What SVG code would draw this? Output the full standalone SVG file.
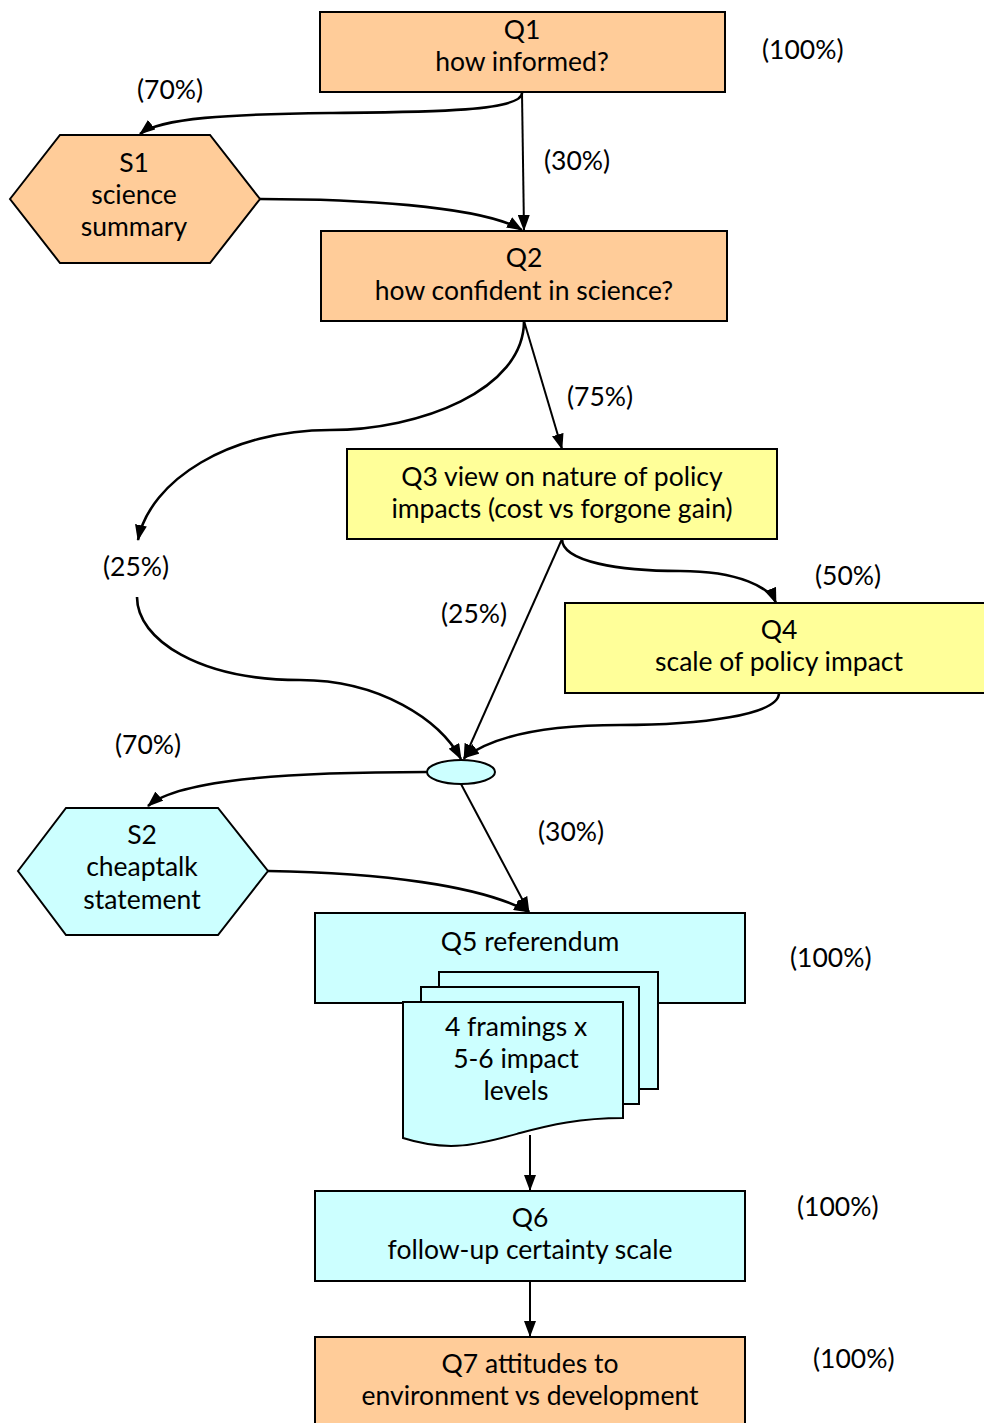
<svg xmlns="http://www.w3.org/2000/svg" width="984" height="1423" viewBox="0 0 984 1423">
<style>
text{font-family:Lato,"Open Sans",sans-serif;font-size:26.5px;fill:#000;text-anchor:middle}
.lbl{text-anchor:start}
.box{stroke:#000;stroke-width:2}
.peach{fill:#FFCC99}
.yel{fill:#FFFF99}
.cyan{fill:#CCFFFF}
.e{fill:none;stroke:#000;stroke-width:2.6}
.s{fill:none;stroke:#000;stroke-width:2}
</style>
<defs>
<marker id="ah" viewBox="0 0 16 12" refX="15" refY="6" markerWidth="16" markerHeight="12" markerUnits="userSpaceOnUse" orient="auto">
<path d="M0,0 L16,6 L0,12 Z" fill="#000"/>
</marker>
</defs>
<rect width="984" height="1423" fill="#fff"/>
<g id="connectors">
<path class="e" d="M522,93 C522,112 420,112 330,113 C230,114 160,118 140,134" marker-end="url(#ah)"/>
<path class="s" d="M522,93 L524,230" marker-end="url(#ah)"/>
<path class="e" d="M260,199 C350,199 480,205 522,230" marker-end="url(#ah)"/>
<path class="s" d="M524,321 L562,449" marker-end="url(#ah)"/>
<path class="e" d="M524,321 C524,390 420,430 330,430 C230,430 150,480 138,540" marker-end="url(#ah)"/>
<path class="e" d="M137,597 C137,640 200,680 300,680 C380,680 440,720 461,759" marker-end="url(#ah)"/>
<path class="e" d="M562,539 C562,562 620,571 680,571 C740,571 770,588 776,603" marker-end="url(#ah)"/>
<path class="s" d="M562,539 L464,759" marker-end="url(#ah)"/>
<path class="e" d="M779,693 C779,715 700,725 620,725 C540,725 490,738 464,758" marker-end="url(#ah)"/>
<path class="e" d="M427,772 C300,772 180,778 148,806" marker-end="url(#ah)"/>
<path class="s" d="M461,784 L529,912" marker-end="url(#ah)"/>
<path class="e" d="M268,871 C380,873 480,885 529,912" marker-end="url(#ah)"/>
<path class="s" d="M530,1135 L530,1190" marker-end="url(#ah)"/>
<path class="s" d="M530,1281 L530,1336" marker-end="url(#ah)"/>
</g>
<g id="Q1">
<rect class="box peach" x="320" y="12" width="405" height="80"/>
<text x="522" y="39">Q1</text>
<text x="522" y="71">how informed?</text>
</g>
<g id="S1">
<polygon class="box peach" points="10,199 60,135 210,135 260,199 210,263 60,263"/>
<text x="134" y="172">S1</text>
<text x="134" y="204">science</text>
<text x="134" y="236">summary</text>
</g>
<g id="Q2">
<rect class="box peach" x="321" y="231" width="406" height="90"/>
<text x="524" y="267">Q2</text>
<text x="524" y="300">how confident in science?</text>
</g>
<g id="Q3">
<rect class="box yel" x="347" y="449" width="430" height="90"/>
<text x="562" y="486">Q3 view on nature of policy</text>
<text x="562" y="518">impacts (cost vs forgone gain)</text>
</g>
<g id="Q4">
<rect class="box yel" x="565" y="603" width="425" height="90"/>
<text x="779" y="639">Q4</text>
<text x="779" y="671">scale of policy impact</text>
</g>
<g id="J">
<ellipse class="box cyan" cx="461" cy="772" rx="34" ry="12"/>
</g>
<g id="S2">
<polygon class="box cyan" points="18,871 66,808 218,808 268,871 218,935 66,935"/>
<text x="142" y="844">S2</text>
<text x="142" y="876">cheaptalk</text>
<text x="142" y="909">statement</text>
</g>
<g id="Q5">
<rect class="box cyan" x="315" y="913" width="430" height="90"/>
<text x="530" y="951">Q5 referendum</text>
</g>
<g id="docs">
<rect class="box cyan" x="439" y="972" width="219" height="117"/>
<rect class="box cyan" x="421" y="987" width="218" height="117"/>
<path class="box cyan" d="M403,1002 H623 V1118 C580,1118 550,1125 520,1133 C480,1144 450,1153 403,1138 Z"/>
<text x="516" y="1036">4 framings x</text>
<text x="516" y="1068">5-6 impact</text>
<text x="516" y="1100">levels</text>
</g>
<g id="Q6">
<rect class="box cyan" x="315" y="1191" width="430" height="90"/>
<text x="530" y="1227">Q6</text>
<text x="530" y="1259">follow-up certainty scale</text>
</g>
<g id="Q7">
<rect class="box peach" x="315" y="1337" width="430" height="95"/>
<text x="530" y="1373">Q7 attitudes to</text>
<text x="530" y="1405">environment vs development</text>
</g>
<g id="labels">
<text class="lbl" x="762" y="59">(100%)</text>
<text class="lbl" x="137" y="99">(70%)</text>
<text class="lbl" x="544" y="170">(30%)</text>
<text class="lbl" x="567" y="406">(75%)</text>
<text class="lbl" x="103" y="576">(25%)</text>
<text class="lbl" x="815" y="585">(50%)</text>
<text class="lbl" x="441" y="623">(25%)</text>
<text class="lbl" x="115" y="754">(70%)</text>
<text class="lbl" x="538" y="841">(30%)</text>
<text class="lbl" x="790" y="967">(100%)</text>
<text class="lbl" x="797" y="1216">(100%)</text>
<text class="lbl" x="813" y="1368">(100%)</text>
</g>
</svg>
